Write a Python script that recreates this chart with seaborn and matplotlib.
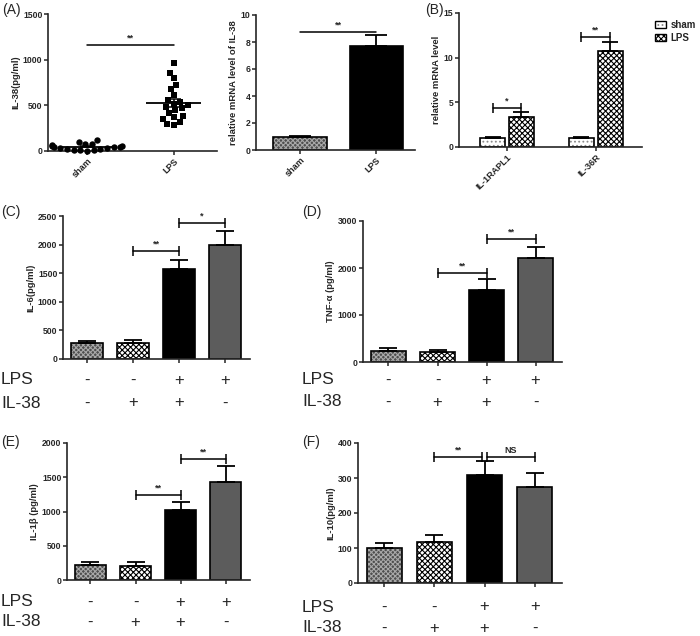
import numpy as np
import pandas as pd
import matplotlib
matplotlib.use("Agg")
import matplotlib.pyplot as plt
import matplotlib.transforms as mtransforms
from matplotlib.patches import Patch, Rectangle
import seaborn as sns

sns.set_style("ticks")
plt.rcParams["font.family"] = ["Liberation Sans", "DejaVu Sans"]
plt.rcParams["hatch.linewidth"] = 0.8

# (A) serum IL-38, one value per animal
sham_il38 = [124, 99, 80, 73, 62, 58, 51, 47, 44, 40, 37, 33, 26, 22, 15, 10, 7, 5]
lps_il38 = [964, 854, 796, 719, 675, 610, 560, 540, 520, 500,
            482, 470, 445, 420, 380, 370, 350, 320, 292, 290]

# (A) right: IL-38 mRNA
mrna_groups = ["sham", "LPS"]
mrna_mean = [1.0, 7.7]
mrna_sem = [0.05, 0.85]

# (B) receptor mRNA
receptors = ["IL-1RAPL1", "IL-36R"]
rec_sham = [1.0, 1.0]
rec_sham_sem = [0.08, 0.08]
rec_lps = [3.4, 10.7]
rec_lps_sem = [0.5, 1.1]

# (C)-(F) cytokines, four treatment groups
lps_signs = ["-", "-", "+", "+"]
il38_signs = ["-", "+", "+", "-"]
il6_mean = [280, 285, 1570, 1985]
il6_sem = [30, 45, 165, 250]
tnf_mean = [234, 213, 1532, 2213]
tnf_sem = [60, 45, 235, 235]
il1b_mean = [219, 204, 1022, 1431]
il1b_sem = [45, 60, 117, 233]
il10_mean = [100, 117, 309, 274]
il10_sem = [14, 20, 40, 40]

# fill styles: (face, hatch, hatch colour)
GRID = ("#4e4e4e", "xxxxxxx", "#a8a8a8")
CHECK = ("white", "xxxxxx", "black")
DOTS = ("white", "....", "#8a8a8a")
BLACK = ("black", "", "black")
GRAY = ("#5c5c5c", "", "black")

W, H = 700, 636
fig = plt.figure(figsize=(W / 100, H / 100), dpi=100)


def new_ax(left, right, top, bottom):
    return fig.add_axes([left / W, 1 - bottom / H, (right - left) / W, (bottom - top) / H])


def style(ax, ymax, step, ylabel):
    ax.set_ylim(0, ymax)
    ax.set_yticks(np.arange(0, ymax + step / 2, step))
    ax.set_ylabel(ylabel, fontsize=6.8, fontweight="bold", labelpad=2)
    ax.set_xlabel("")
    sns.despine(ax=ax)
    for s in ("left", "bottom"):
        ax.spines[s].set_linewidth(1.2)
    ax.tick_params(length=3, width=1.1, labelsize=6.2, pad=1)
    for t in ax.get_yticklabels() + ax.get_xticklabels():
        t.set_fontweight("bold")


def paint(ax, patches, fills):
    # hatch colour follows the edge colour here, so the black outline goes on top
    for p, (face, hatch, hcol) in zip(patches, fills):
        p.set_facecolor(face)
        if hatch:
            p.set_hatch(hatch)
            p.set_edgecolor(hcol)
            p.set_linewidth(0)
            ax.add_patch(Rectangle((p.get_x(), p.get_y()), p.get_width(), p.get_height(),
                                   fill=False, edgecolor="black", lw=1.2,
                                   zorder=p.get_zorder() + 0.1))
        else:
            p.set_edgecolor("black")
            p.set_linewidth(1.2)


def upper_err(ax, patches, sems, capsize=6.5):
    xs = [p.get_x() + p.get_width() / 2 for p in patches]
    ys = [p.get_height() for p in patches]
    ax.errorbar(xs, ys, yerr=[np.zeros(len(sems)), sems], fmt="none",
                ecolor="black", elinewidth=1.3, capsize=capsize, capthick=1.3, zorder=1)


def bracket(ax, x1, x2, y, label, caps=True):
    ax.plot([x1, x2], [y, y], color="black", lw=1.1,
            marker="|" if caps else None, ms=7, mew=1.1, clip_on=False)
    ax.annotate(label, ((x1 + x2) / 2, y), xytext=(0, 1.5), textcoords="offset points",
                ha="center", va="bottom", fontsize=6.5, fontweight="bold")


# ---- (A) scatter
ax = new_ax(48, 217, 14, 151)
df = pd.DataFrame({"group": ["sham"] * len(sham_il38) + ["LPS"] * len(lps_il38),
                   "value": sham_il38 + lps_il38})
sns.swarmplot(data=df[df.group == "sham"], x="group", y="value", order=mrna_groups,
              marker="o", color="black", size=4.6, ax=ax)
sns.swarmplot(data=df[df.group == "LPS"], x="group", y="value", order=mrna_groups,
              marker="s", color="black", size=4.6, ax=ax)
for c in ax.collections:
    c.set_clip_on(False)
for i, vals in enumerate([sham_il38, lps_il38]):
    m = np.mean(vals)
    se = np.std(vals, ddof=1) / np.sqrt(len(vals))
    ax.hlines(m, i - 0.32, i + 0.32, color="black", lw=1.3)
    ax.errorbar(i, m, yerr=se, fmt="none", ecolor="black", elinewidth=1.1, capsize=5, capthick=1.1)
ax.set_xlim(-0.45, 1.5)
style(ax, 1500, 500, "IL-38(pg/ml)")
ax.set_xticks([0, 1], mrna_groups, rotation=45, ha="right", rotation_mode="anchor",
              fontsize=6.5, fontweight="bold")
bracket(ax, 0, 1, 1160, "**", caps=False)

# ---- (A) mRNA bars
ax = new_ax(256, 415, 15, 150)
sns.barplot(x=mrna_groups, y=mrna_mean, width=0.7, ax=ax)
bars = list(ax.patches)
paint(ax, bars, [GRID, BLACK])
upper_err(ax, bars, mrna_sem, capsize=8)
ax.set_xlim(-0.58, 1.51)
style(ax, 10, 2, "relative mRNA level of IL-38")
ax.set_xticks([0, 1], mrna_groups, rotation=45, ha="right", rotation_mode="anchor",
              fontsize=6.5, fontweight="bold")
bracket(ax, 0, 1, 8.75, "**", caps=False)

# ---- (B) receptor bars
ax = new_ax(459, 642, 13, 147)
rec_df = pd.DataFrame({"receptor": receptors * 2,
                       "group": ["sham"] * 2 + ["LPS"] * 2,
                       "level": rec_sham + rec_lps})
sns.barplot(data=rec_df, x="receptor", y="level", hue="group", hue_order=["sham", "LPS"],
            width=0.65, gap=0.15, legend=False, ax=ax)
bars = list(ax.patches)[:4]
paint(ax, bars, [DOTS, DOTS, CHECK, CHECK])
upper_err(ax, bars, rec_sham_sem + rec_lps_sem, capsize=6)
ax.set_xlim(-0.54, 1.52)
style(ax, 15, 5, "relative mRNA level")
ax.set_xticks([0, 1], receptors, rotation=45, ha="right", rotation_mode="anchor",
              fontsize=6.5, fontweight="bold")
cx = [p.get_x() + p.get_width() / 2 for p in bars]
bracket(ax, cx[0], cx[2], 4.4, "*")
bracket(ax, cx[1], cx[3], 12.3, "**")

handles = []
for face, hatch, hcol in (DOTS, CHECK):
    fill = Patch(facecolor=face, edgecolor=hcol, hatch=hatch, linewidth=0)
    edge = Patch(fill=False, edgecolor="black", linewidth=1.0)
    handles.append((fill, edge))
fig.legend(handles, ["sham", "LPS"], loc="upper left", bbox_to_anchor=(648 / W, 1 - 13 / H),
           frameon=False, handlelength=1.2, handleheight=0.8, handletextpad=0.4,
           labelspacing=0.3, borderpad=0.2, prop={"size": 7, "weight": "bold"})

# ---- (C)-(F)
panels = [
    ("(C)", (63, 250, 216, 359), il6_mean, il6_sem, 2500, 500, "IL-6(pg/ml)",
     [(1, 2, 1888, "**"), (2, 3, 2377, "*")], (380, 403)),
    ("(D)", (363, 562, 221, 362), tnf_mean, tnf_sem, 3000, 1000, "TNF-α (pg/ml)",
     [(1, 2, 1894, "**"), (2, 3, 2617, "**")], (380, 402)),
    ("(E)", (67, 250, 443, 580), il1b_mean, il1b_sem, 2000, 500, "IL-1β (pg/ml)",
     [(1, 2, 1241, "**"), (2, 3, 1766, "**")], (602, 622)),
    ("(F)", (358, 562, 443, 583), il10_mean, il10_sem, 400, 100, "IL-10(pg/ml)",
     [(1, 1.95, 360, "**"), (2.05, 3, 360, "NS")], (607, 628)),
]
groups = [f"{a}/{b}" for a, b in zip(lps_signs, il38_signs)]
for tag, box, means, sems, ymax, step, ylabel, sig, rows in panels:
    ax = new_ax(*box)
    sns.barplot(x=groups, y=means, width=0.7, ax=ax)
    bars = list(ax.patches)
    paint(ax, bars, [GRID, CHECK, BLACK, GRAY])
    upper_err(ax, bars, sems)
    ax.set_xlim(-0.52, 3.54)
    style(ax, ymax, step, ylabel)
    ax.set_xticks(range(4), [""] * 4)
    for x1, x2, y, lab in sig:
        bracket(ax, x1, x2, y, lab)
    tr = mtransforms.blended_transform_factory(ax.transData, fig.transFigure)
    label_x = 1 if box[0] < 200 else 302
    for row_y, name, signs in zip(rows, ["LPS", "IL-38"], [lps_signs, il38_signs]):
        fig.text(label_x / W, 1 - row_y / H, name, fontsize=12.5, va="center", ha="left")
        for i, s in enumerate(signs):
            ax.text(i, 1 - row_y / H, s, transform=tr, fontsize=12, va="center", ha="center")
    tag_y = 212 if box[2] < 300 else 442
    fig.text(label_x / W, 1 - tag_y / H, tag, fontsize=10, va="center", ha="left")

fig.text(2 / W, 1 - 10 / H, "(A)", fontsize=10, va="center", ha="left")
fig.text(425 / W, 1 - 10 / H, "(B)", fontsize=10, va="center", ha="left")

fig.savefig("out.png", dpi=100)
